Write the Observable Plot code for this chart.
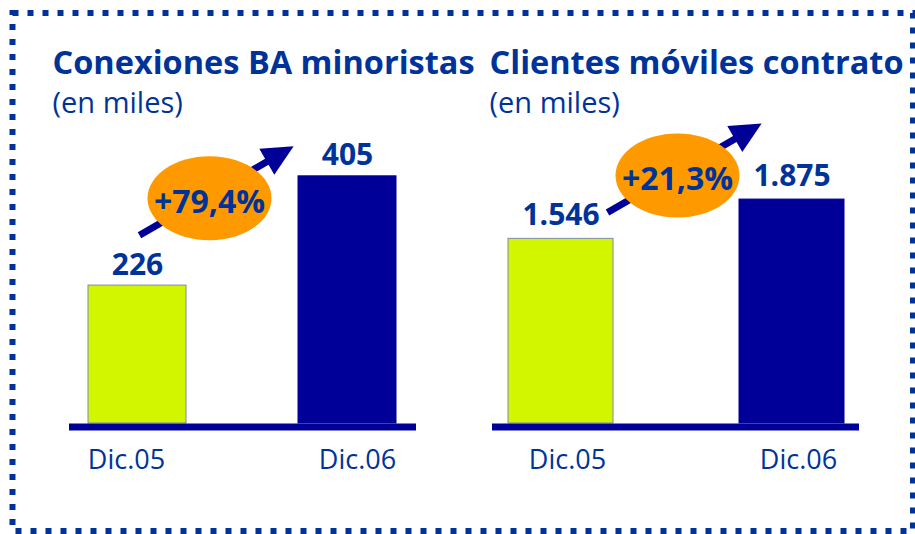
<!DOCTYPE html>
<html>
<head>
<meta charset="utf-8">
<script src="https://cdn.jsdelivr.net/npm/d3@7"></script>
<script src="https://cdn.jsdelivr.net/npm/@observablehq/plot@0.6"></script>
<style>
  body { margin: 0; background: #fff; }
  #wrap { position: relative; width: 915px; height: 534px; background: #fff; overflow: hidden; }
  #wrap svg { position: absolute; top: 0; }
</style>
</head>
<body>
<div id="wrap"></div>
<script>
// ---- data ----
const categories = ["Dic.05", "Dic.06"];
const conexionesBA = [226, 405];
const clientesMoviles = [1546, 1875];
const panelTitles = ["Conexiones BA minoristas", "Clientes móviles contrato"];
const unitLabel = "(en miles)";
const growthLabels = ["+79,4%", "+21,3%"];

// ---- styles ----
const textBlue = "#003399";
const navy = "#000099";
const green = "#d2f500";
const orange = "#ff9900";
const barFills = [green, navy];
const barStrokes = ["#7d8cab", navy];
const font = "Open Sans";

const es = d3.formatLocale({decimal: ",", thousands: ".", grouping: [3], currency: ["", " €"]});
const fmt = es.format(",d");

// custom symbols (pixel geometry relative to the anchor)
const ellipseSymbol = {
  draw(ctx) {
    const rx = 62, ry = 42, k = 0.5523;
    ctx.moveTo(-rx, 0);
    ctx.bezierCurveTo(-rx, -ry * k, -rx * k, -ry, 0, -ry);
    ctx.bezierCurveTo(rx * k, -ry, rx, -ry * k, rx, 0);
    ctx.bezierCurveTo(rx, ry * k, rx * k, ry, 0, ry);
    ctx.bezierCurveTo(-rx * k, ry, -rx, ry * k, -rx, 0);
    ctx.closePath();
  }
};
const arrowSymbol = {
  draw(ctx) {
    const L = 178, head = 31, hw = 15, sw = 3.5, ang = -Math.PI / 6, sx = -70, sy = 37;
    const c = Math.cos(ang), s = Math.sin(ang);
    const pts = [[0, -sw], [L - head, -sw], [L - head, -hw], [L, 0], [L - head, hw], [L - head, sw], [0, sw]];
    pts.forEach(([t, n], i) => {
      const x = sx + t * c - n * s, y = sy + t * s + n * c;
      if (i === 0) ctx.moveTo(x, y); else ctx.lineTo(x, y);
    });
    ctx.closePath();
  }
};

function panel({values, title, growth, width, marginLeft, marginRight, marginTop, yMax,
                paddingInner, paddingOuter, labelDy, badgeDx, badgeDy, titleDx, tickDx}) {
  const rows = categories.map((c, i) => ({cat: c, v: values[i], i}));
  const top = [rows[rows.length - 1]];
  return Plot.plot({
    width, height: 534,
    marginLeft, marginRight, marginTop, marginBottom: 111,
    style: {fontFamily: font, background: "transparent", overflow: "visible", color: textBlue},
    x: {type: "band", domain: categories, paddingInner, paddingOuter, axis: null},
    y: {domain: [0, yMax], axis: null},
    marks: [
      Plot.barY(rows, {x: "cat", y: "v", fill: d => barFills[d.i], stroke: d => barStrokes[d.i], strokeWidth: 1}),
      Plot.ruleY([0], {stroke: navy, strokeWidth: 7, dy: 3.5}),
      Plot.text(rows, {x: "cat", y: "v", text: d => fmt(d.v), dy: labelDy, lineAnchor: "bottom",
                       fontSize: 30, fontWeight: "bold", fill: textBlue}),
      ...rows.map(r => Plot.text([r], {x: "cat", frameAnchor: "bottom", text: "cat", dx: tickDx[r.i], dy: 45,
                       lineAnchor: "bottom", fontSize: 27, fill: textBlue})),
      Plot.dot(top, {y: "v", r: 1, symbol: arrowSymbol, fill: navy, stroke: "none", dx: badgeDx, dy: badgeDy}),
      Plot.dot(top, {y: "v", r: 1, symbol: ellipseSymbol, fill: orange, stroke: "none", dx: badgeDx, dy: badgeDy}),
      Plot.text(top, {y: "v", text: () => growth, dx: badgeDx, dy: badgeDy + 4, lineAnchor: "middle",
                      fontSize: 32, fontWeight: "bold", fill: textBlue}),
      Plot.text([title], {frameAnchor: "top-left", textAnchor: "start", lineAnchor: "bottom",
                          dx: titleDx, dy: 73 - marginTop, fontSize: 32.5, fontWeight: "bold", fill: textBlue}),
      Plot.text([unitLabel], {frameAnchor: "top-left", textAnchor: "start", lineAnchor: "bottom",
                              dx: titleDx, dy: 112 - marginTop, fontSize: 29, fill: textBlue})
    ]
  });
}

const wrap = document.getElementById("wrap");

const border = Plot.plot({
  width: 915, height: 534, margin: 0,
  style: {background: "transparent"},
  marks: [Plot.frame({stroke: textBlue, strokeWidth: 6, strokeDasharray: "6 9",
                      insetLeft: 12, insetTop: 12.5, insetRight: 2.5, insetBottom: 3.5})]
});
border.style.left = "0px";
wrap.appendChild(border);

const p1 = panel({values: conexionesBA, title: panelTitles[0], growth: growthLabels[0],
  width: 457, marginLeft: 69, marginRight: 41, marginTop: 8, yMax: 680,
  paddingInner: 0.531, paddingOuter: 0.088, labelDy: -11, badgeDx: -33.5, badgeDy: 22, titleDx: -17,
  tickDx: [-11, 10]});
p1.style.left = "0px";
wrap.appendChild(p1);

const p2 = panel({values: clientesMoviles, title: panelTitles[1], growth: growthLabels[1],
  width: 458, marginLeft: 35, marginRight: 56, marginTop: 5, yMax: 3500,
  paddingInner: 0.547, paddingOuter: 0.065, labelDy: -14, badgeDx: 1.5, badgeDy: -24, titleDx: -3,
  tickDx: [6.5, 6.5]});
p2.style.left = "457px";
wrap.appendChild(p2);
</script>
</body>
</html>
